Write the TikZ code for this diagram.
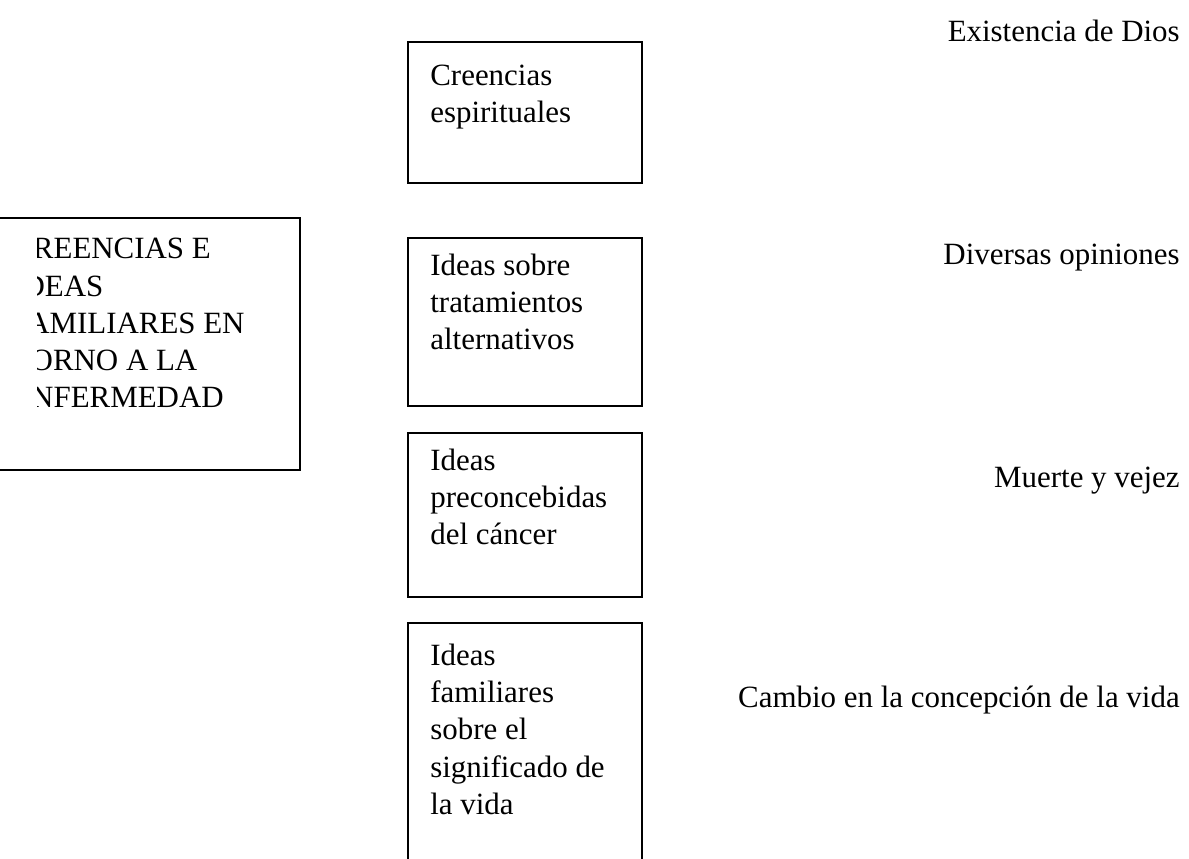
\documentclass[tikz,border=0pt]{standalone}
\usepackage{fontspec}
\setmainfont{Liberation Serif}
\usepackage{tikz}
\usetikzlibrary{positioning}
\tikzset{boxline/.style={line width=1pt},
  boxtext/.style={inner sep=0pt, align=left, font=\fontsize{17.6}{21.2}\selectfont},
  sidetext/.style={inner sep=0pt, font=\fontsize{17.6}{21.2}\selectfont}}

\begin{document}
\begin{tikzpicture}[scale=1]
\useasboundingbox (0,0) rectangle (23.78,17.18);

% ---------- Main box (cut at the left edge) ----------
\draw[boxline] (-1,12.82) rectangle (6.00,7.78);
\begin{scope}
\clip (0.74,12.80) rectangle (5.98,7.80);
\node[boxtext, anchor=base west] (main) at (0.24,9.02)
  {CREENCIAS E\\IDEAS\\FAMILIARES EN\\TORNO A LA\\ENFERMEDAD};
\end{scope}

% ---------- Boxes in the middle ----------
\draw[boxline] (8.16,16.34) rectangle (12.84,13.52);
\node[boxtext, anchor=base west] (spirit) at (8.60,14.73)
  {Creencias\\espirituales};

\draw[boxline] (8.16,12.42) rectangle (12.84,9.06);
\node[boxtext, anchor=base west] (treat) at (8.60,10.18)
  {Ideas sobre\\tratamientos\\alternativos};

\draw[boxline] (8.16,8.52) rectangle (12.84,5.24);
\node[boxtext, anchor=base west] (cancer) at (8.60,6.28)
  {Ideas\\preconcebidas\\del cáncer};

\draw[boxline] (8.16,4.72) rectangle (12.84,-1);
\node[boxtext, anchor=base west] (life) at (8.60,0.89)
  {Ideas\\familiares\\sobre el\\significado de\\la vida};

% ---------- Texts on the right ----------
\node[sidetext, anchor=base east] (god) at (23.60,16.34) {Existencia de Dios};
\node[sidetext, anchor=base east] (opin) at (23.60,11.88) {Diversas opiniones};
\node[sidetext, anchor=base east] (death) at (23.60,7.42) {Muerte y vejez};
\node[sidetext, anchor=base east] (change) at (23.60,3.02) {Cambio en la concepción de la vida};

\end{tikzpicture}
\end{document}
